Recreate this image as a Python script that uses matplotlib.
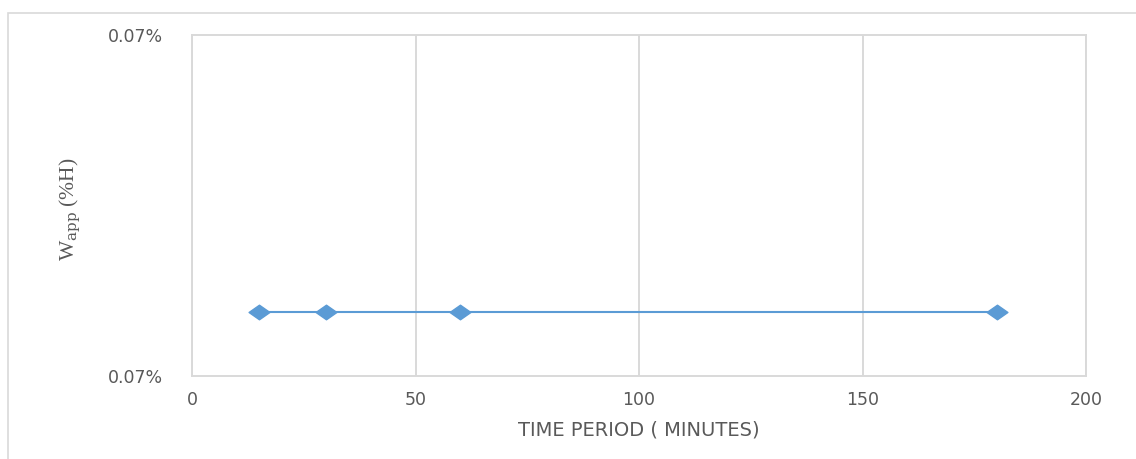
import matplotlib
matplotlib.use("Agg")
import matplotlib.pyplot as plt
from matplotlib.ticker import FuncFormatter, FixedLocator
from matplotlib.patches import Rectangle
from matplotlib.path import Path

# Sampling times (minutes) and apparent water content (fraction of H)
time_min = [15, 30, 60, 180]
w_app = [0.0007, 0.0007, 0.0007, 0.0007]

x_ticks = [0, 50, 100, 150, 200]
y_limits = (0.000690, 0.000743)

text_grey = "#595959"
grid_grey = "#d9d9d9"
series_blue = "#5b9bd5"

fig = plt.figure(figsize=(11.36, 4.59), dpi=100)
fig.patch.set_facecolor("white")

# thin outer chart border
fig.patches.append(Rectangle((8 / 1136, -0.01), 1.2, 1 - 13 / 459 + 0.01,
                             transform=fig.transFigure, fill=False,
                             edgecolor=grid_grey, linewidth=1.2))

ax = fig.add_axes([192 / 1136, 1 - 376 / 459, (1086 - 192) / 1136, (376 - 35) / 459])

# wide, flat diamond marker
diamond = Path([(-1, 0), (0, 0.7), (1, 0), (0, -0.7), (-1, 0)],
               [Path.MOVETO, Path.LINETO, Path.LINETO, Path.LINETO, Path.CLOSEPOLY])

ax.plot(time_min, w_app, color=series_blue, linewidth=1.5,
        marker=diamond, markersize=15, markerfacecolor=series_blue,
        markeredgecolor=series_blue, zorder=3)

ax.set_xlim(x_ticks[0], x_ticks[-1])
ax.set_ylim(*y_limits)
ax.xaxis.set_major_locator(FixedLocator(x_ticks))
ax.yaxis.set_major_locator(FixedLocator(list(y_limits)))
ax.xaxis.set_major_formatter(FuncFormatter(lambda v, p: f"{v:.0f}"))
ax.yaxis.set_major_formatter(FuncFormatter(lambda v, p: f"{v * 100:.2f}%"))

ax.grid(axis="x", color=grid_grey, linewidth=1.4)
ax.set_axisbelow(True)
for s in ax.spines.values():
    s.set_color(grid_grey)
    s.set_linewidth(1.4)

ax.tick_params(length=0, colors=text_grey, labelsize=12.5)
ax.tick_params(axis="x", pad=11)
ax.tick_params(axis="y", pad=21)
for lbl in ax.get_xticklabels() + ax.get_yticklabels():
    lbl.set_fontfamily("DejaVu Sans")

ax.set_xlabel("TIME PERIOD ( MINUTES)", color=text_grey, fontsize=14,
              fontfamily="DejaVu Sans", labelpad=8)
fig.text(70 / 1136, 1 - 209 / 459, r"W$_{\mathrm{app}}$ (%H)", rotation=90,
         ha="center", va="center", color=text_grey, fontsize=15.5,
         fontfamily="Liberation Serif", math_fontfamily="dejavuserif")

fig.savefig("out.png", dpi=100, facecolor="white")
